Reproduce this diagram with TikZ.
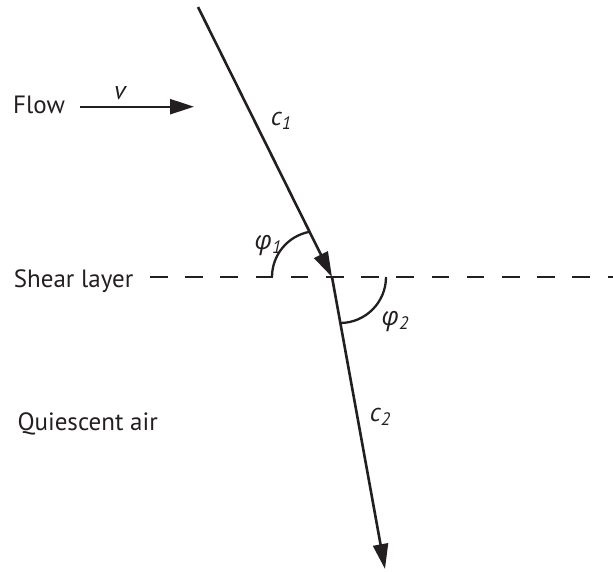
\documentclass[tikz,border=0pt]{standalone}
\usepackage{fontspec}
\setmainfont{PT Sans}
\newfontfamily\grk{Open Sans}
\usetikzlibrary{arrows.meta}
\definecolor{ink}{HTML}{231F20}
\begin{document}
\begin{tikzpicture}[x=1pt,y=-1pt,
  lbl/.style={inner sep=0pt, text=ink, font=\fontsize{25}{29}\selectfont},
  var/.style={inner sep=0pt, text=ink, font=\fontsize{26}{30}\selectfont\itshape},
  ray/.style={draw=ink, line width=2.6pt, -{Triangle[length=25pt,width=15pt]}},
  flowarrow/.style={draw=ink, line width=2.4pt, -{Triangle[length=24pt,width=15pt]}},
  anglearc/.style={draw=ink, line width=2.3pt},
  layer/.style={draw=ink, line width=1.5pt, dash pattern=on 17.5pt off 17.7pt}]
\useasboundingbox (0,0) rectangle (613,571);
% coordinates
\coordinate (src) at (198,7);
\coordinate (hit) at (332,277);
\coordinate (dst) at (385,569);
\coordinate (layerL) at (150,277);
\coordinate (layerR) at (613,277);
\coordinate (flowA) at (80,106.7);
\coordinate (flowB) at (194,106.7);
% shear layer
\draw[layer] (layerL) -- (layerR);
% rays
\draw[ray] (src) -- (hit);
\draw[ray] (hit) -- (dst);
% flow arrow
\draw[flowarrow] (flowA) -- (flowB);
% angle arcs
\draw[anglearc] (272,277) arc[start angle=180, end angle=100.6, radius=46pt];
\draw[anglearc] (386,277) arc[start angle=0, end angle=-89.5, radius=46pt];
% labels
\node[lbl, anchor=base west] (flow) at (13,113.3) {Flow};
\node[lbl, anchor=base west] (shear) at (13.7,287) {Shear layer};
\node[lbl, anchor=base west] (quiet) at (17.3,430) {Quiescent air};
\node[var] (v) at (120,93) {v};
\node[var] (c1) at (281,121) {c\raisebox{-0.3ex}{\fontsize{18}{20}\selectfont 1}};
\node[var] (c2) at (380,417) {c\raisebox{-0.3ex}{\fontsize{18}{20}\selectfont 2}};
\node[var] (p1) at (268,246) {{\grk\itshape φ}\raisebox{-0.3ex}{\fontsize{18}{20}\selectfont 1}};
\node[var] (p2) at (395,322) {{\grk\itshape φ}\raisebox{-0.3ex}{\fontsize{18}{20}\selectfont 2}};
\end{tikzpicture}
\end{document}
